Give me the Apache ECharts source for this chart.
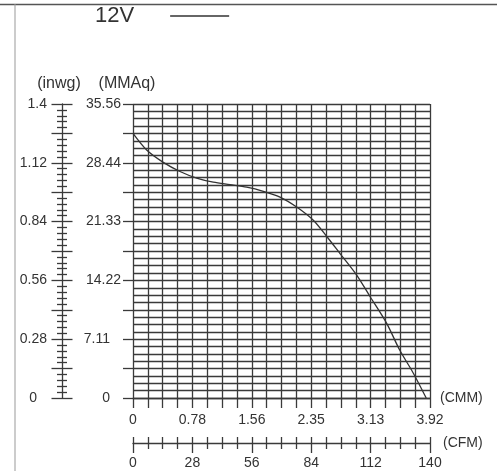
<!DOCTYPE html>
<html>
<head>
<meta charset="utf-8">
<script src="https://cdn.jsdelivr.net/npm/echarts@6/dist/echarts.min.js"></script>
<style>html,body{margin:0;padding:0;background:#fff;}#c{width:502px;height:471px;}</style>
</head>
<body>
<div id="c"></div>
<script>
// Flow (CMM) and static pressure (MMAq)
const cmm  = [0, 0.18, 0.40, 0.62, 0.84, 1.06, 1.28, 1.50, 1.72, 1.94, 2.16, 2.38, 2.56, 2.73, 2.95, 3.13, 3.35, 3.52, 3.70, 3.87];
const mmaq = [32.0, 30.0, 28.5, 27.4, 26.6, 26.1, 25.8, 25.5, 25.0, 24.3, 23.1, 21.5, 19.5, 17.5, 14.9, 12.25, 9.0, 5.8, 3.0, 0];
const seriesName = '12V';
// Tick labels
const mmaqLabels = ['0', '7.11', '14.22', '21.33', '28.44', '35.56'];
const inwgLabels = ['0', '0.28', '0.56', '0.84', '1.12', '1.4'];
const cmmLabels  = ['0', '0.78', '1.56', '2.35', '3.13', '3.92'];
const cfmLabels  = ['0', '28', '56', '84', '112', '140'];

const FONT = 'Liberation Sans';
const TXT = '#333';
const LN = '#3a3a3a';

const chart = echarts.init(document.getElementById('c'));
const tickStyle = { color: LN, width: 1.3 };

chart.setOption({
  animation: false,
  backgroundColor: '#fff',
  textStyle: { fontFamily: FONT },
  grid: { left: 133, right: 72, top: 104, bottom: 73, containLabel: false },
  legend: {
    data: [seriesName],
    left: 95, top: 5, padding: 0,
    align: 'right',
    icon: 'rect', itemWidth: 59, itemHeight: 1.5,
    selectedMode: false,
    textStyle: { fontSize: 22, color: TXT, fontFamily: FONT, padding: [0, 31, 0, 0] }
  },
  graphic: [
    { type: 'line', shape: { x1: 0, y1: 4.5, x2: 497, y2: 4.5 }, style: { stroke: '#555', lineWidth: 1.5 } },
    { type: 'line', shape: { x1: 15, y1: 4, x2: 15, y2: 471 }, style: { stroke: '#999', lineWidth: 1 } }
  ],
  xAxis: [
    { // CMM, grid columns
      type: 'value', position: 'bottom', min: 0, max: 3.92, interval: 0.196,
      splitLine: { show: true, lineStyle: { color: LN, width: 1.3 } },
      axisLine: { show: true, onZero: false, lineStyle: { color: LN, width: 1.3 } },
      axisTick: { show: true, length: 10, lineStyle: tickStyle },
      axisLabel: {
        show: true, margin: 15, fontSize: 14, color: TXT, fontFamily: FONT,
        showMinLabel: true, showMaxLabel: true,
        formatter: (v, i) => (i % 4 === 0 ? cmmLabels[i / 4] : '')
      },
      name: '(CMM)', nameLocation: 'end', nameGap: 10,
      nameTextStyle: { fontSize: 14, color: TXT, fontFamily: FONT, padding: [8, 0, 0, 0] }
    },
    { // CFM, outward ticks + labels
      type: 'value', position: 'bottom', offset: 45, min: 0, max: 140, interval: 28,
      splitLine: { show: false },
      axisLine: { show: true, onZero: false, lineStyle: { color: LN, width: 1.3 } },
      axisTick: { show: true, length: 10, lineStyle: tickStyle },
      minorTick: { show: true, splitNumber: 4, length: 6, lineStyle: tickStyle },
      axisLabel: {
        show: true, margin: 13, fontSize: 14, color: TXT, fontFamily: FONT,
        showMinLabel: true, showMaxLabel: true,
        formatter: (v, i) => cfmLabels[i]
      },
      name: '(CFM)', nameLocation: 'end', nameGap: 13,
      nameTextStyle: { fontSize: 14, color: TXT, fontFamily: FONT, padding: [14, 0, 0, 0] }
    },
    { // CFM, inward ticks
      type: 'value', position: 'bottom', offset: 45, min: 0, max: 140, interval: 7,
      splitLine: { show: false },
      axisLine: { show: false, onZero: false },
      axisTick: { show: true, inside: true, length: 6, lineStyle: tickStyle },
      axisLabel: { show: false }
    }
  ],
  yAxis: [
    { // MMAq grid rows
      type: 'value', position: 'left', min: 0, max: 35.56, interval: 0.889,
      splitLine: { show: true, lineStyle: { color: LN, width: 1.3 } },
      axisLine: { show: false, onZero: false }, axisTick: { show: false }, axisLabel: { show: false }
    },
    { // MMAq ticks + labels
      type: 'value', position: 'left', min: 0, max: 35.56, interval: 3.556,
      splitLine: { show: false },
      axisLine: { show: false, onZero: false },
      axisTick: { show: true, length: 10, lineStyle: tickStyle },
      axisLabel: {
        show: true, margin: 12, fontSize: 14, color: TXT, fontFamily: FONT,
        showMinLabel: true, showMaxLabel: true,
        formatter: (v, i) => {
          if (i % 2 !== 0) return '';
          const k = i / 2;
          return k <= 1 ? '{s|' + mmaqLabels[k] + '}' : mmaqLabels[k];
        },
        rich: { s: { fontSize: 14, color: TXT, fontFamily: FONT, padding: [0, 11, 0, 0] } }
      },
      name: '(MMAq)', nameLocation: 'end', nameGap: 12,
      nameTextStyle: { fontSize: 16, color: TXT, fontFamily: FONT, padding: [0, 12, 0, 0] }
    },
    { // inwg outward
      type: 'value', position: 'left', offset: 71, min: 0, max: 1.4, interval: 0.14,
      splitLine: { show: false },
      axisLine: { show: true, onZero: false, lineStyle: { color: LN, width: 1.3 } },
      axisTick: { show: true, length: 10.5, lineStyle: tickStyle },
      minorTick: { show: true, splitNumber: 5, length: 5, lineStyle: tickStyle },
      axisLabel: {
        show: true, margin: 15, fontSize: 14, color: TXT, fontFamily: FONT,
        showMinLabel: true, showMaxLabel: true,
        formatter: (v, i) => {
          if (i % 2 !== 0) return '';
          const k = i / 2;
          return k === 0 ? '{s|' + inwgLabels[k] + '}' : inwgLabels[k];
        },
        rich: { s: { fontSize: 14, color: TXT, fontFamily: FONT, padding: [0, 10, 0, 0] } }
      },
      name: '(inwg)', nameLocation: 'end', nameGap: 12,
      nameTextStyle: { fontSize: 16, color: TXT, fontFamily: FONT, padding: [0, 6, 0, 0] }
    },
    { // inwg inward
      type: 'value', position: 'left', offset: 71, min: 0, max: 1.4, interval: 0.14,
      splitLine: { show: false },
      axisLine: { show: false, onZero: false },
      axisTick: { show: true, inside: true, length: 10.5, lineStyle: tickStyle },
      minorTick: { show: true, splitNumber: 5, length: 5, lineStyle: tickStyle },
      axisLabel: { show: false }
    }
  ],
  series: [{
    name: seriesName,
    type: 'line',
    xAxisIndex: 0, yAxisIndex: 0,
    data: cmm.map((x, i) => [x, mmaq[i]]),
    smooth: 0.3,
    showSymbol: false,
    color: '#333',
    lineStyle: { color: '#333', width: 1.3 },
    itemStyle: { color: '#333' }
  }]
});
</script>
</body>
</html>
